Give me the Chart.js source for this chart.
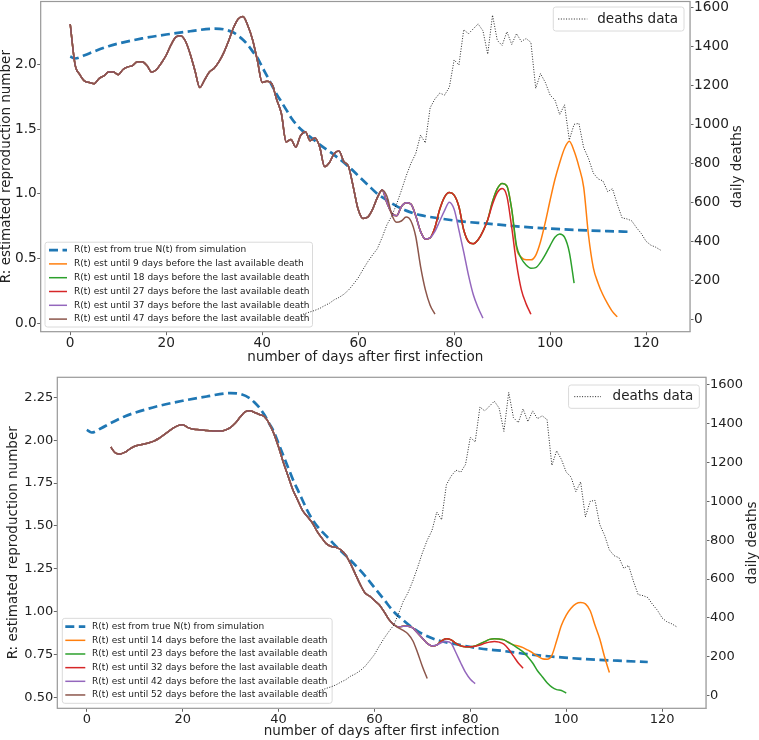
<!DOCTYPE html>
<html>
<head>
<meta charset="utf-8">
<script src="https://cdn.jsdelivr.net/npm/chart.js@4.4.1/dist/chart.umd.min.js"></script>
<style>
  html, body { margin: 0; padding: 0; background: #fff; }
  .panel { position: absolute; left: 0; width: 759px; height: 370px; }
  #top { top: 0; }
  #bottom { top: 370px; }
</style>
</head>
<body>
<div class="panel" id="top"><canvas id="chartTop"></canvas></div>
<div class="panel" id="bottom"><canvas id="chartBottom"></canvas></div>
<script>
// Tick labels
const dayTicks = [0, 20, 40, 60, 80, 100, 120];
const topRTicks = [0.0, 0.5, 1.0, 1.5, 2.0];
const bottomRTicks = [0.50, 0.75, 1.00, 1.25, 1.50, 1.75, 2.00, 2.25];
const deathTicks = [0, 200, 400, 600, 800, 1000, 1200, 1400, 1600];

// R(t) from the true N(t) of the simulation
const trueDays = [0, 1, 3, 5, 8, 10, 15, 20, 25, 30, 32, 34, 35, 36, 37, 38, 39, 40, 41, 42, 43, 44, 45, 46, 47, 48, 50, 52, 55, 58, 60, 62, 64, 66, 68, 70, 73, 77, 82, 87, 92, 99, 106, 112, 117];
const trueR = [2.06, 2.045, 2.07, 2.10, 2.14, 2.16, 2.20, 2.23, 2.255, 2.275, 2.27, 2.245, 2.22, 2.19, 2.15, 2.10, 2.05, 1.98, 1.91, 1.84, 1.77, 1.71, 1.65, 1.59, 1.54, 1.50, 1.44, 1.38, 1.30, 1.21, 1.14, 1.07, 1.00, 0.95, 0.905, 0.87, 0.835, 0.81, 0.785, 0.77, 0.752, 0.733, 0.72, 0.712, 0.706];

// daily deaths, first value at day 48
const deathStart = 48;
const deaths = [22, 30, 38, 46, 56, 70, 82, 100, 112, 128, 150, 180, 212, 255, 295, 330, 362, 420, 485, 530, 590, 660, 735, 800, 850, 945, 905, 1085, 1130, 1160, 1150, 1190, 1330, 1305, 1485, 1465, 1490, 1515, 1480, 1360, 1560, 1430, 1405, 1475, 1410, 1465, 1425, 1440, 1420, 1185, 1260, 1215, 1150, 1125, 1050, 1100, 920, 1000, 1005, 880, 825, 750, 720, 710, 655, 670, 590, 520, 515, 505, 470, 440, 400, 380, 370, 355];

// top figure: estimate cut 47 days before the last death, from day 0
const top47 = [2.31, 2.00, 1.92, 1.87, 1.86, 1.85, 1.89, 1.91, 1.94, 1.94, 1.92, 1.96, 1.98, 1.99, 2.02, 2.02, 1.99, 1.94, 1.96, 2.01, 2.07, 2.15, 2.21, 2.22, 2.18, 2.08, 1.95, 1.82, 1.88, 1.94, 1.97, 2.02, 2.09, 2.18, 2.28, 2.35, 2.37, 2.30, 2.19, 2.03, 1.86, 1.87, 1.85, 1.73, 1.62, 1.40, 1.42, 1.36, 1.45, 1.48, 1.41, 1.43, 1.36, 1.21, 1.24, 1.31, 1.33, 1.25, 1.21, 1.05, 0.88, 0.81, 0.82, 0.88, 0.97, 1.03, 0.98, 0.84, 0.78, 0.79, 0.82, 0.79, 0.67, 0.44, 0.26, 0.14, 0.07];
// later cuts: values from the day they leave the previous curve
const top37Tail = [0.93, 0.85, 0.83, 0.90, 0.93, 0.92, 0.83, 0.71, 0.65, 0.66, 0.71, 0.79, 0.87, 0.935, 0.88, 0.72, 0.55, 0.37, 0.22, 0.12, 0.04]; // from day 66
const top27Tail = [0.74, 0.88, 0.975, 1.01, 0.99, 0.90, 0.72, 0.63, 0.615, 0.645, 0.71, 0.80, 0.92, 1.01, 1.04, 0.98, 0.74, 0.46, 0.26, 0.15, 0.07]; // from day 76
const top18Tail = [0.94, 1.04, 1.08, 1.06, 0.88, 0.60, 0.50, 0.45, 0.425, 0.43, 0.47, 0.53, 0.60, 0.665, 0.69, 0.665, 0.55, 0.31]; // from day 88
const top9Tail = [0.58, 0.51, 0.49, 0.49, 0.525, 0.63, 0.78, 0.95, 1.11, 1.24, 1.35, 1.405, 1.33, 1.21, 1.05, 0.68, 0.43, 0.31, 0.22, 0.15, 0.09, 0.05]; // from day 93
const topLags = [9, 18, 27, 37, 47];

// bottom figure: estimate cut 52 days before the last death, from day 5
const bottom52 = [1.96, 1.925, 1.92, 1.93, 1.95, 1.965, 1.972, 1.978, 1.985, 1.995, 2.01, 2.03, 2.05, 2.07, 2.085, 2.09, 2.075, 2.065, 2.062, 2.06, 2.057, 2.055, 2.053, 2.053, 2.06, 2.075, 2.10, 2.135, 2.165, 2.172, 2.162, 2.15, 2.138, 2.10, 2.04, 1.96, 1.87, 1.79, 1.71, 1.65, 1.59, 1.555, 1.52, 1.47, 1.43, 1.395, 1.38, 1.375, 1.36, 1.33, 1.28, 1.22, 1.16, 1.11, 1.09, 1.065, 1.04, 1.00, 0.955, 0.925, 0.905, 0.89, 0.87, 0.83, 0.76, 0.68, 0.61];
const bottom42Tail = [0.91, 0.915, 0.915, 0.905, 0.875, 0.845, 0.815, 0.80, 0.805, 0.82, 0.826, 0.815, 0.76, 0.70, 0.645, 0.605, 0.58]; // from day 65
const bottom32Tail = [0.83, 0.842, 0.835, 0.815, 0.80, 0.795, 0.795, 0.798, 0.805, 0.815, 0.822, 0.826, 0.822, 0.81, 0.78, 0.74, 0.70, 0.67]; // from day 74
const bottom23Tail = [0.80, 0.812, 0.825, 0.838, 0.842, 0.84, 0.835, 0.82, 0.805, 0.785, 0.765, 0.735, 0.70, 0.655, 0.62, 0.585, 0.56, 0.545, 0.54, 0.525]; // from day 81
const bottom14Tail = [0.805, 0.80, 0.79, 0.775, 0.76, 0.74, 0.725, 0.722, 0.745, 0.83, 0.92, 0.98, 1.02, 1.045, 1.053, 1.045, 1.005, 0.92, 0.84, 0.735, 0.645]; // from day 89
const bottomLags = [14, 23, 32, 42, 52];

const estColors = ['#ff7f0e', '#2ca02c', '#d62728', '#9467bd', '#8c564b'];
const FONT = "'DejaVu Sans', sans-serif";

// an earlier cut shares the start of the later one
function grow(start, base, tailStart, tail) {
    return base.slice(0, tailStart - start).concat(tail);
}
function pts(start, values) {
    return values.map((v, i) => ({ x: start + i, y: v }));
}

function makeDatasets(start, estimates, lags) {
    const ds = [{
        label: 'R(t) est from true N(t) from simulation',
        data: trueDays.map((d, i) => ({ x: d, y: trueR[i] })),
        yAxisID: 'y', borderColor: '#1f77b4', borderWidth: 2.7, borderDash: [9, 4.5],
        cubicInterpolationMode: 'monotone', order: 6
    }];
    estimates.forEach((values, i) => ds.push({
        label: `R(t) est until ${lags[i]} days before the last available death`,
        data: pts(start, values),
        yAxisID: 'y', borderColor: estColors[i], borderWidth: 1.5,
        cubicInterpolationMode: 'monotone', order: 5 - i
    }));
    ds.push({
        label: 'deaths data',
        data: pts(deathStart, deaths),
        yAxisID: 'y1', borderColor: 'rgba(0,0,0,0.85)', borderWidth: 1, borderDash: [1, 1.6],
        order: 0
    });
    return ds;
}

function drawLegend(chart, items, o) {
    const ctx = chart.ctx, area = chart.chartArea;
    ctx.save();
    ctx.font = o.font;
    const textW = Math.max(...items.map(d => ctx.measureText(d.label).width));
    const w = o.padL + o.handle + o.gap + textW + o.padR;
    const h = o.padY * 2 + o.rowH * items.length;
    const x0 = o.corner === 'lowerLeft' ? area.left + o.dx : area.right - o.dx - w;
    const y0 = o.corner === 'lowerLeft' ? area.bottom - o.dy - h : area.top + o.dy;
    ctx.beginPath();
    if (ctx.roundRect) ctx.roundRect(x0, y0, w, h, 2.5); else ctx.rect(x0, y0, w, h);
    ctx.fillStyle = 'rgba(255,255,255,0.8)';
    ctx.fill();
    ctx.strokeStyle = '#dadada';
    ctx.lineWidth = 1;
    ctx.stroke();
    items.forEach((d, i) => {
        const cy = y0 + o.padY + o.rowH * (i + 0.5);
        ctx.beginPath();
        ctx.setLineDash(d.borderDash || []);
        ctx.strokeStyle = d.borderColor;
        ctx.lineWidth = d.borderWidth;
        ctx.moveTo(x0 + o.padL, cy);
        ctx.lineTo(x0 + o.padL + o.handle, cy);
        ctx.stroke();
        ctx.setLineDash([]);
        ctx.fillStyle = '#222';
        ctx.textBaseline = 'middle';
        ctx.textAlign = 'left';
        ctx.fillText(d.label, x0 + o.padL + o.handle + o.gap, cy);
    });
    ctx.restore();
}

const panelPlugin = {
    id: 'panel',
    beforeDatasetDraw(chart, args, opts) {
        // R legend sits under the deaths curve, like the twin axes in the original
        if (chart.data.datasets[args.index].yAxisID === 'y1') {
            drawLegend(chart, chart.data.datasets.filter(d => d.yAxisID === 'y'), opts.rLegend);
        }
    },
    afterDatasetsDraw(chart, args, opts) {
        const ctx = chart.ctx, a = chart.chartArea;
        ctx.save();
        ctx.strokeStyle = '#999';
        ctx.lineWidth = 1.2;
        ctx.strokeRect(a.left, a.top, a.right - a.left, a.bottom - a.top);
        ctx.restore();
        drawLegend(chart, chart.data.datasets.filter(d => d.yAxisID === 'y1'), opts.dLegend);
    },
    afterDraw(chart, args, opts) {
        // right title reads bottom to top, as in the original
        const ctx = chart.ctx, a = chart.chartArea;
        ctx.save();
        ctx.translate(opts.rightTitleX, (a.top + a.bottom) / 2);
        ctx.rotate(-Math.PI / 2);
        ctx.font = `13.5px ${FONT}`;
        ctx.fillStyle = '#222';
        ctx.textAlign = 'center';
        ctx.textBaseline = 'middle';
        ctx.fillText(opts.rightTitle, 0, 0);
        ctx.restore();
    }
};

function tickGrid() {
    return { display: true, drawOnChartArea: false, drawTicks: true, tickLength: 3.5, tickColor: '#666' };
}
function noPad(s) {
    s.paddingTop = 0; s.paddingBottom = 0; s.paddingLeft = 0; s.paddingRight = 0;
}

function makeChart(id, p) {
    return new Chart(document.getElementById(id), {
        type: 'line',
        data: { datasets: p.datasets },
        options: {
            responsive: true,
            maintainAspectRatio: false,
            animation: false,
            layout: { autoPadding: false, padding: { top: p.padTop, left: 0, right: 0, bottom: 0 } },
            elements: { point: { radius: 0 }, line: { tension: 0 } },
            plugins: {
                legend: { display: false },
                tooltip: { enabled: false },
                panel: { rLegend: p.rLegend, dLegend: p.dLegend, rightTitleX: p.rightTitleX, rightTitle: 'daily deaths' }
            },
            scales: {
                x: {
                    type: 'linear', min: -6.15, max: 129.15,
                    afterBuildTicks: s => { s.ticks = dayTicks.map(v => ({ value: v })); },
                    afterFit: s => { s.height = p.xHeight; noPad(s); },
                    ticks: { font: { family: FONT, size: p.tickSize }, color: '#222', padding: 0, maxRotation: 0 },
                    grid: tickGrid(),
                    title: { display: true, text: 'number of days after first infection', color: '#222',
                        font: { family: FONT, size: 13.5, lineHeight: 1 }, padding: { top: 0, bottom: p.xTitlePad } }
                },
                y: {
                    position: 'left', min: p.rMin, max: p.rMax,
                    afterBuildTicks: s => { s.ticks = p.rTicks.map(v => ({ value: v })); },
                    afterFit: s => { s.width = p.leftW; noPad(s); },
                    ticks: { font: { family: FONT, size: p.tickSize }, color: '#222', padding: 0.5,
                        callback: v => Number(v).toFixed(p.rDigits) },
                    grid: tickGrid(),
                    title: { display: true, text: 'R: estimated reproduction number', color: '#222',
                        font: { family: FONT, size: 13.5, lineHeight: 1 }, padding: { top: p.yTitlePad, bottom: 0 } }
                },
                y1: {
                    position: 'right', min: p.dMin, max: p.dMax,
                    afterBuildTicks: s => { s.ticks = deathTicks.map(v => ({ value: v })); },
                    afterFit: s => { s.width = p.rightW; noPad(s); },
                    ticks: { font: { family: FONT, size: p.tickSize }, color: '#222', padding: 0.5,
                        callback: v => String(v) },
                    grid: tickGrid()
                }
            }
        },
        plugins: [panelPlugin]
    });
}

// top figure
const top37 = grow(0, top47, 66, top37Tail);
const top27 = grow(0, top37, 76, top27Tail);
const top18 = grow(0, top27, 88, top18Tail);
const top9 = grow(0, top18, 93, top9Tail);

makeChart('chartTop', {
    datasets: makeDatasets(0, [top9, top18, top27, top37, top47], topLags),
    padTop: 1.5, leftW: 40.7, rightW: 69, xHeight: 38.3,
    rMin: -0.065, rMax: 2.485, rTicks: topRTicks, rDigits: 1,
    dMin: -63.6, dMax: 1630,
    tickSize: 13.7, xTitlePad: 6.2, yTitlePad: 0, rightTitleX: 737,
    rLegend: { corner: 'lowerLeft', font: `9px ${FONT}`, padL: 4, handle: 18, gap: 7, padR: 3, padY: 1, rowH: 13.8, dx: 4.3, dy: 4.7 },
    dLegend: { corner: 'upperRight', font: `13.5px ${FONT}`, padL: 5, handle: 29, gap: 10, padR: 6, padY: 3, rowH: 18, dx: 6, dy: 5.5 }
});

// bottom figure
const bottom42 = grow(5, bottom52, 65, bottom42Tail);
const bottom32 = grow(5, bottom42, 74, bottom32Tail);
const bottom23 = grow(5, bottom32, 81, bottom23Tail);
const bottom14 = grow(5, bottom23, 89, bottom14Tail);

makeChart('chartBottom', {
    datasets: makeDatasets(5, [bottom14, bottom23, bottom32, bottom42, bottom52], bottomLags),
    padTop: 7.3, leftW: 57.3, rightW: 53, xHeight: 31.7,
    rMin: 0.436, rMax: 2.367, rTicks: bottomRTicks, rDigits: 2,
    dMin: -64.8, dMax: 1638,
    tickSize: 13, xTitlePad: 1.6, yTitlePad: 7.2, rightTitleX: 752,
    rLegend: { corner: 'lowerLeft', font: `9px ${FONT}`, padL: 3, handle: 20, gap: 6.7, padR: 4.6, padY: 1.5, rowH: 13.66, dx: 5, dy: 5 },
    dLegend: { corner: 'upperRight', font: `13.5px ${FONT}`, padL: 5.7, handle: 26.7, gap: 11.6, padR: 6, padY: 3, rowH: 17.3, dx: 6.7, dy: 7.7 }
});
</script>
</body>
</html>
